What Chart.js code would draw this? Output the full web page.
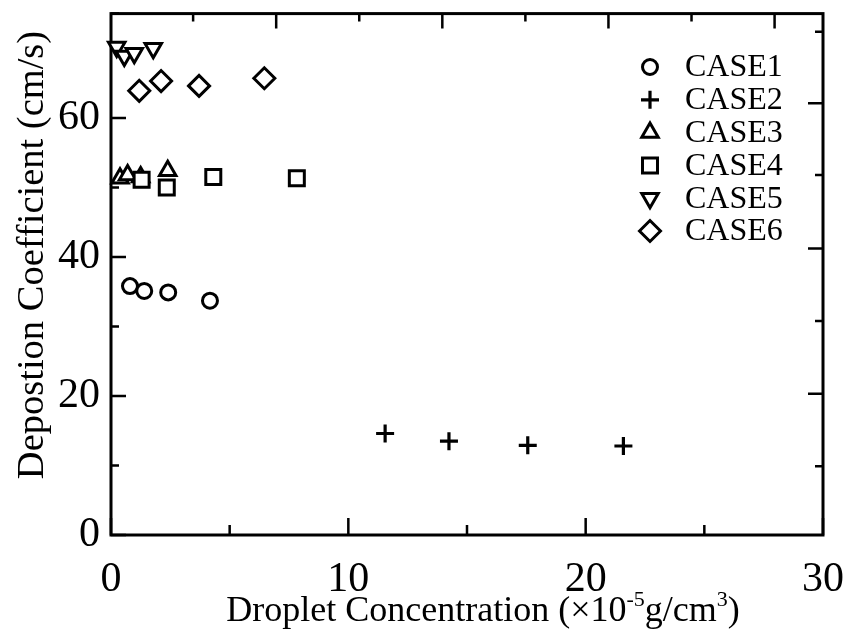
<!DOCTYPE html>
<html>
<head>
<meta charset="utf-8">
<script src="https://cdn.jsdelivr.net/npm/chart.js@4/dist/chart.umd.min.js"></script>
<style>
  html, body { margin: 0; padding: 0; background: #fff; }
  #wrap { width: 847px; height: 636px; }
</style>
</head>
<body>
<div id="wrap"><canvas id="chart" width="847" height="636"></canvas></div>
<script>
'use strict';

// deposition coefficient vs droplet concentration, six cases
const seriesNames = ['CASE1', 'CASE2', 'CASE3', 'CASE4', 'CASE5', 'CASE6'];

const case1X = [0.80, 1.40, 2.41, 4.17];
const case1Y = [35.8, 35.1, 34.9, 33.7];
const case2X = [11.55, 14.24, 17.56, 21.59];
const case2Y = [14.6, 13.5, 12.9, 12.8];
const case3X = [0.38, 0.70, 1.25, 2.39];
const case3Y = [51.3, 51.8, 51.5, 52.4];
const case4X = [1.29, 2.35, 4.31, 7.83];
const case4Y = [51.1, 50.0, 51.5, 51.3];
const case5X = [0.24, 0.56, 0.98, 1.78];
const case5Y = [70.2, 68.9, 69.3, 70.0];
const case6X = [1.19, 2.11, 3.71, 6.46];
const case6Y = [63.9, 65.3, 64.6, 65.7];

const xLabels = [0, 10, 20, 30];
const yLabels = [0, 20, 40, 60];

// tick marks on the top and right frame (no labels there)
const topMajor = [6.96, 13.96, 20.96, 27.96];
const topMinor = [3.46, 10.46, 17.46, 24.46];
const rightMajor = [62.1, 41.2, 20.3];
const rightMinor = [72.4, 51.8, 30.8, 9.9];

const xs = [case1X, case2X, case3X, case4X, case5X, case6X];
const ys = [case1Y, case2Y, case3Y, case4Y, case5Y, case6Y];

const markers = [
  { pointStyle: 'circle',   rotation: 0,   radius: 7.5 },
  { pointStyle: 'cross',    rotation: 0,   radius: 9 },
  { pointStyle: 'triangle', rotation: 0,   radius: 9.5 },
  { pointStyle: 'rect',     rotation: 0,   radius: 10.6 },
  { pointStyle: 'triangle', rotation: 180, radius: 9.5 },
  { pointStyle: 'rectRot',  rotation: 0,   radius: 10.5 },
];

const SERIF = '"Liberation Serif", "Times New Roman", serif';

const datasets = seriesNames.map((name, i) => ({
  label: name,
  data: xs[i].map((x, j) => ({ x, y: ys[i][j] })),
  pointStyle: markers[i].pointStyle,
  rotation: markers[i].rotation,
  pointRadius: markers[i].radius,
  pointBorderWidth: i === 1 ? 3.2 : 3,
  pointBorderColor: '#000',
  pointBackgroundColor: '#fff',
  showLine: false,
  clip: false,
  order: name === 'CASE4' ? -1 : i,
}));

// frame with inward ticks on all four sides
const frameTicks = {
  id: 'frameTicks',
  beforeDatasetsDraw(chart) {
    const { ctx, chartArea: a, scales: { x, y } } = chart;
    ctx.save();
    ctx.strokeStyle = '#000';
    ctx.lineWidth = 2.5;
    ctx.beginPath();
    x.ticks.forEach(t => {
      const px = x.getPixelForValue(t.value);
      const len = xLabels.includes(t.value) ? 17 : 10;
      ctx.moveTo(px, a.bottom); ctx.lineTo(px, a.bottom - len);
    });
    y.ticks.forEach(t => {
      const py = y.getPixelForValue(t.value);
      const len = yLabels.includes(t.value) ? 15 : 8;
      ctx.moveTo(a.left, py); ctx.lineTo(a.left + len, py);
    });
    topMajor.forEach(v => {
      const px = x.getPixelForValue(v);
      ctx.moveTo(px, a.top); ctx.lineTo(px, a.top + 15);
    });
    topMinor.forEach(v => {
      const px = x.getPixelForValue(v);
      ctx.moveTo(px, a.top); ctx.lineTo(px, a.top + 8);
    });
    rightMajor.forEach(v => {
      const py = y.getPixelForValue(v);
      ctx.moveTo(a.right, py); ctx.lineTo(a.right - 15, py);
    });
    rightMinor.forEach(v => {
      const py = y.getPixelForValue(v);
      ctx.moveTo(a.right, py); ctx.lineTo(a.right - 8, py);
    });
    ctx.stroke();
    ctx.lineWidth = 3;
    ctx.strokeRect(a.left, a.top, a.right - a.left, a.bottom - a.top);
    ctx.restore();
  }
};

// legend in the upper right of the plot + both axis titles
const annotations = {
  id: 'annotations',
  afterDraw(chart) {
    const { ctx, chartArea: a } = chart;
    ctx.save();
    ctx.fillStyle = '#000';
    ctx.strokeStyle = '#000';

    // legend
    const legX = 650, legY = 67, rowH = 32.8;
    chart.data.datasets.forEach((ds, i) => {
      const cy = legY + i * rowH;
      ctx.fillStyle = '#fff';
      ctx.lineWidth = ds.pointBorderWidth;
      Chart.helpers.drawPoint(ctx, {
        pointStyle: ds.pointStyle, rotation: ds.rotation,
        radius: ds.pointRadius, borderWidth: ds.pointBorderWidth
      }, legX, cy);
      ctx.fillStyle = '#000';
      ctx.font = '32px ' + SERIF;
      ctx.textBaseline = 'middle';
      ctx.textAlign = 'left';
      ctx.fillText(ds.label, 685, cy + 1);
    });

    // y title
    ctx.save();
    ctx.translate(33, 255);
    ctx.rotate(-Math.PI / 2);
    ctx.font = '38.5px ' + SERIF;
    ctx.textAlign = 'center';
    ctx.textBaseline = 'middle';
    ctx.fillText('Depostion Coefficient (cm/s)', 0, 0);
    ctx.restore();

    // x title with superscripts
    const base = 621;
    const parts = [
      { t: 'Droplet Concentration (', sup: false },
      { t: '\u00d710', sup: false },
      { t: '-5', sup: true },
      { t: 'g/cm', sup: false },
      { t: '3', sup: true },
      { t: ')', sup: false },
    ];
    const font = sup => (sup ? '22px ' : '36px ') + SERIF;
    let total = 0;
    parts.forEach(p => { ctx.font = font(p.sup); total += ctx.measureText(p.t).width; });
    let cx = (a.left + a.right) / 2 + 16 - total / 2;
    ctx.textAlign = 'left';
    ctx.textBaseline = 'alphabetic';
    parts.forEach(p => {
      ctx.font = font(p.sup);
      ctx.fillText(p.t, cx, p.sup ? base - 15 : base);
      cx += ctx.measureText(p.t).width;
    });
    ctx.restore();
  }
};

new Chart(document.getElementById('chart'), {
  type: 'scatter',
  data: { datasets },
  options: {
    responsive: false,
    animation: false,
    events: [],
    layout: { padding: { left: 0, right: 24, top: 11, bottom: 0 } },
    plugins: { legend: { display: false }, tooltip: { enabled: false } },
    scales: {
      x: {
        type: 'linear',
        min: 0, max: 30,
        grid: { display: false, drawTicks: false },
        border: { display: false },
        ticks: {
          stepSize: 5,
          autoSkip: false,
          maxRotation: 0,
          padding: 20,
          color: '#000',
          font: { family: SERIF, size: 42 },
          callback: v => (xLabels.includes(v) ? String(v) : ''),
        },
        afterFit: s => { s.height = 101; s.paddingLeft = 0; s.paddingRight = 0; },
      },
      y: {
        type: 'linear',
        min: 0, max: 75,
        grid: { display: false, drawTicks: false },
        border: { display: false },
        ticks: {
          stepSize: 10,
          autoSkip: false,
          padding: 11,
          color: '#000',
          font: { family: SERIF, size: 42 },
          callback: v => (yLabels.includes(v) ? String(v) : ''),
        },
        afterFit: s => { s.width = 111; s.paddingTop = 0; s.paddingBottom = 0; },
      },
    },
  },
  plugins: [frameTicks, annotations],
});
</script>
</body>
</html>
